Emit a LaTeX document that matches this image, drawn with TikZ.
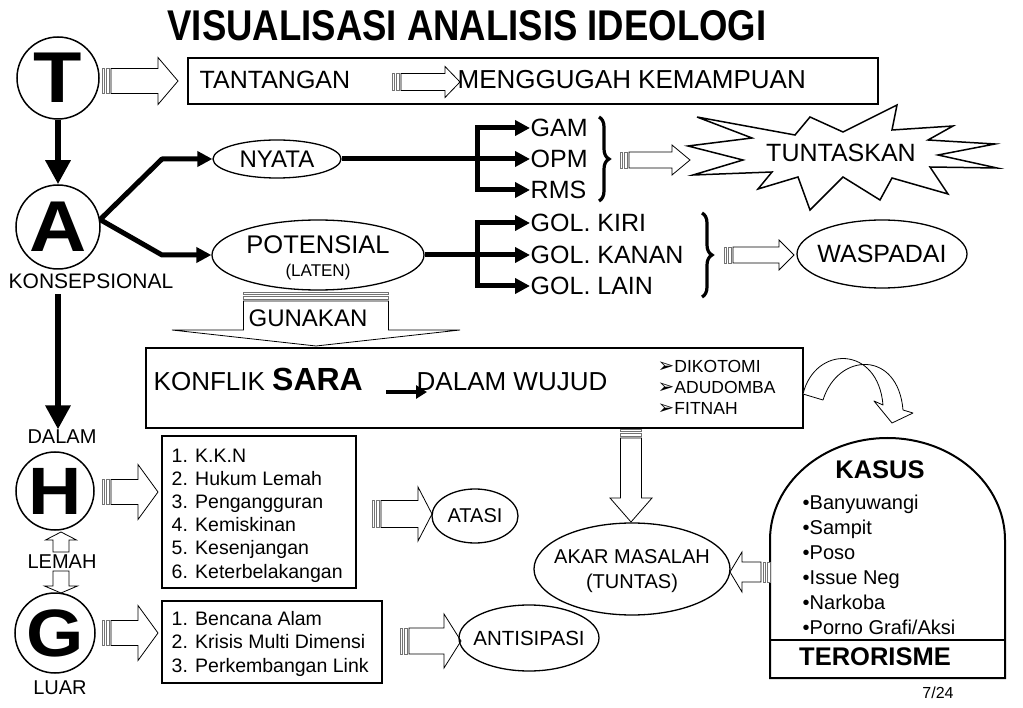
\documentclass[tikz,border=0pt]{standalone}
\usepackage{fontspec}
\usepackage{graphicx}
\setmainfont{Liberation Sans}
\newfontfamily\dejavu{DejaVu Sans}
\usetikzlibrary{arrows.meta,decorations.pathreplacing,shapes.geometric}
\newcommand\fsz[2]{\fontsize{#1pt}{#2pt}\selectfont}
\newcommand\bigletter[1]{\scalebox{1.1}[1]{#1}}
% striped block arrow: origin, rotation, length, body half, head half, head length
\newcommand\sarr[6]{%
  \begin{scope}[shift={#1},rotate=#2]
    \draw[stripe] (0,-#4) rectangle (2.5,#4);
    \draw[stripe] (4.5,-#4) rectangle (7,#4);
    \draw[barrow] (9,-#4) -- ({#3-#6},-#4) -- ({#3-#6},-#5) -- (#3,0) -- ({#3-#6},#5) -- ({#3-#6},#4) -- (9,#4) -- cycle;
  \end{scope}}
% plain hollow block arrow
\newcommand\harr[6]{%
  \begin{scope}[shift={#1},rotate=#2]
    \draw[barrow] (0,-#4) -- ({#3-#6},-#4) -- ({#3-#6},-#5) -- (#3,0) -- ({#3-#6},#5) -- ({#3-#6},#4) -- (0,#4) -- cycle;
  \end{scope}}
\begin{document}
\begin{tikzpicture}[x=1pt,y=-1pt,
  txt/.style={inner sep=0.5pt,font=\fsz{25}{30}},
  ell/.style={ellipse,draw,line width=1.3pt,inner sep=0pt},
  bigc/.style={circle,draw,line width=1.5pt,inner sep=0pt,font=\fsz{72}{72}\bfseries},
  thk/.style={line width=5pt,-{Triangle[length=15pt,width=15pt]}},
  vthk/.style={line width=6.5pt,-{Triangle[length=24pt,width=24pt]}},
  stripe/.style={draw=black!55,line width=0.7pt,fill=white},
  barrow/.style={draw=black,line width=0.8pt,fill=white,line join=miter},
  brc/.style={decorate,decoration={brace,amplitude=10pt},line width=3.2pt},
  box/.style={draw,line width=1.5pt,inner sep=0pt,outer sep=0pt,anchor=north west},
]
\useasboundingbox (0,0) rectangle (1023,708);
\fill[white] (0,0) rectangle (1023,708);

% title
\node (title) at (467,26) {\scalebox{0.85}[1]{\fsz{43}{50}\bfseries VISUALISASI ANALISIS IDEOLOGI}};

% big letter circles
\node[bigc,minimum size=82pt] (T) at (58,78) {\bigletter{T}};
\node[bigc,minimum size=84pt] (A) at (58,227) {\bigletter{A}};
\node[bigc,minimum size=78pt,font=\fsz{67}{67}\bfseries] (H) at (55,491) {\bigletter{H}};
\node[bigc,minimum size=80pt,font=\fsz{67}{67}\bfseries] (G) at (55,633) {\bigletter{G}};

\node[txt,font=\fsz{21}{25}] (konsep) at (91,281) {KONSEPSIONAL};
\node[txt,font=\fsz{20}{24}] (dalam) at (62,437) {DALAM};
\node[txt,font=\fsz{20}{24}] (lemah) at (62,562) {LEMAH};
\node[txt,font=\fsz{20}{24}] (luar) at (60,688) {LUAR};

\draw[vthk] (T) -- (A);
\draw[vthk] ([yshift=-5pt]A |- konsep.south) -- (A |- dalam.north);

% TANTANGAN row
\node[box,minimum width=690pt,minimum height=46pt] (tbox) at (188,58) {};
\node[txt,anchor=west] (tant) at (199,80) {TANTANGAN};
\node[txt,anchor=west,font=\fsz{26}{30}] (meng) at (457,80) {MENGGUGAH KEMAMPUAN};
\sarr{(102,81)}{0}{76}{12.5}{23.5}{20}
\sarr{(392,82)}{0}{68}{8.5}{15.5}{15}

% NYATA / POTENSIAL
\node[ell,minimum width=128pt,minimum height=38pt,font=\fsz{24}{30}] (nyata) at (277,159) {NYATA};
\node[ell,minimum width=212pt,minimum height=70pt] (pot) at (318,255) {};
\node[txt,font=\fsz{25.5}{30}] (potT) at (318,245) {POTENSIAL};
\node[txt,font=\fsz{17}{20}] (laten) at (318,272) {(LATEN)};
\coordinate (ka) at (162,0);
\draw[thk,line join=round] (A.10) -- (ka |- nyata.west) -- (nyata.west);
\draw[thk,line join=round] (A.10) -- (ka |- pot.west) -- (pot.west);

\foreach \n/\t/\y in {gam/GAM/128,opm/OPM/159,rms/RMS/190,kiri/GOL. KIRI/223,kanan/GOL. KANAN/255,lain/GOL. LAIN/286}
  \node[txt,anchor=west] (\n) at (530,\y) {\t};
\coordinate (bx) at (477,0);
\draw[thk] (nyata.east) -- (opm.west);
\draw[line width=5pt,{Triangle[length=15pt,width=15pt]}-{Triangle[length=15pt,width=15pt]}] (gam.west) -- (bx |- gam.west) -- (bx |- rms.west) -- (rms.west);
\draw[thk] (pot.east) -- (kanan.west);
\draw[line width=5pt,{Triangle[length=15pt,width=15pt]}-{Triangle[length=15pt,width=15pt]}] (kiri.west) -- (bx |- kiri.west) -- (bx |- lain.west) -- (lain.west);

\draw[brc] (599,117) -- (599,201);
\draw[brc] (702,213) -- (702,297);

\sarr{(620,160)}{0}{70}{8}{15}{18}
\sarr{(724,255)}{0}{70}{8}{15}{15}

% star
\draw[line width=1.5pt,fill=white,line join=miter] (688,146) -- (752,138) -- (697,117) -- (795,135) -- (810,117) -- (843,132) -- (897,105) -- (892,130) -- (953,126) -- (928,140) -- (995,144) -- (938,155) -- (997,168) -- (930,167) -- (948,194) -- (892,178) -- (880,200) -- (843,177) -- (810,210) -- (798,177) -- (758,189) -- (772,172) -- (693,175) -- (743,160) -- cycle;
\node[txt] (tunt) at (841,153) {TUNTASKAN};

\node[ell,minimum width=170pt,minimum height=68pt,label={[txt]center:WASPADAI}] (wasp) at (882,254) {};

% GUNAKAN
\sarr{(316,292)}{-90}{54}{72.5}{144}{16}
\node[txt,font=\fsz{24}{28}] (gun) at (308,318) {GUNAKAN};

% SARA box
\node[box,line width=2.2pt,minimum width=657pt,minimum height=80pt] (sara) at (146,348) {};
\node[txt,anchor=base west,font=\fsz{26}{30}] (konf) at (153,391) {KONFLIK {\bfseries\fsz{32}{36}SARA}};
\node[txt,anchor=base west,font=\fsz{26}{30}] (dw) at (416,391) {DALAM WUJUD};
\coordinate (k1) at (386,392);
\coordinate (k2) at (427,392);
\draw[line width=3.5pt,-{Triangle[length=11pt,width=13pt]}] (k1) -- (k2);
\foreach \n/\t/\y in {dik/DIKOTOMI/372.5,adu/ADUDOMBA/393.5,fit/FITNAH/414.5}
  \node[txt,anchor=base west,font=\fsz{17.5}{22}] (\n) at (657,\y) {{\dejavu\fsz{20}{20}➢}\t};

% curved arrow
\draw[barrow,line join=round] (803,394) .. controls (815,345) and (878,345) .. (883,405) -- (874,401) -- (892,423) -- (913,413) -- (903,410) .. controls (898,350) and (838,352) .. (823,400) -- cycle;

% down arrow to AKAR
\sarr{(631,429)}{-90}{93}{10.5}{21}{24}
\node[ell,minimum width=196pt,minimum height=92pt] (akar) at (632,569) {};
\node[txt,font=\fsz{20}{24}] (akar1) at (632,557) {AKAR MASALAH};
\node[txt,font=\fsz{20}{24}] (akar2) at (632,583) {(TUNTAS)};

% KASUS
\draw[line width=2pt,fill=white] (770,678) -- (770,540) arc[start angle=180,end angle=0,x radius=117.5pt,y radius=102pt] -- (1005,678) -- cycle;
\draw[line width=1.5pt] (770,640) -- (1005,640);
\node[txt,font=\bfseries\fsz{25.5}{30}] (kasus) at (880,470) {KASUS};
\foreach \t [count=\i from 0] in {Banyuwangi,Sampit,Poso,Issue Neg,Narkoba,{Porno Grafi/Aksi}}
  \node[txt,anchor=base west,font=\fsz{20}{24}] (kas\i) at (802,{509+25*\i}) {•\t};
\node[txt,font=\bfseries\fsz{25.5}{30}] (teror) at (875,657) {TERORISME};
\sarr{(770,572)}{180}{40}{10}{20}{12}

% H box
\node[box,minimum width=194pt,minimum height=152pt] (hbox) at (162,436) {};
\foreach \t [count=\i from 0] in {1. K.K.N,2. Hukum Lemah,3. Pengangguran,4. Kemiskinan,5. Kesenjangan,6. Keterbelakangan}
  \node[txt,anchor=base west,font=\fsz{19.5}{23}] (h\i) at (171,{462+23.2*\i}) {\t};
% G box
\node[box,minimum width=220pt,minimum height=82pt] (gbox) at (162,601) {};
\foreach \t [count=\i from 0] in {1. Bencana Alam,2. Krisis Multi Dimensi,3. Perkembangan Link}
  \node[txt,anchor=base west,font=\fsz{19.5}{23}] (g\i) at (171,{625+23.5*\i}) {\t};

\sarr{(102,492)}{0}{56}{12.5}{27.5}{20}
\sarr{(102,633)}{0}{56}{12.5}{27.5}{20}
\sarr{(372,514)}{0}{60}{13.5}{27}{14}
\node[ell,minimum width=86pt,minimum height=54pt,label={[txt,font=\fsz{20}{24}]center:ATASI}] (atasi) at (475,516) {};
\sarr{(400,641)}{0}{61}{13}{27}{17}
\node[ell,minimum width=140pt,minimum height=66pt,label={[txt,font=\fsz{20.5}{24}]center:ANTISIPASI}] (antis) at (529,638) {};

% LEMAH arrows
\harr{(61,552)}{90}{20}{8}{15.5}{8}
\harr{(61,571)}{-90}{22}{8}{16.5}{7}

\node[txt,font=\fsz{16}{20}] (pg) at (938,693) {7/24};
\end{tikzpicture}
\end{document}
